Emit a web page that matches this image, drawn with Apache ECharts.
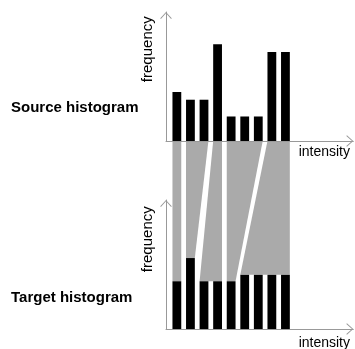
<!DOCTYPE html>
<html>
<head>
<meta charset="utf-8">
<script src="https://cdn.jsdelivr.net/npm/echarts@6/dist/echarts.min.js"></script>
<style>
  html, body { margin: 0; padding: 0; background: #fff; }
  #chart { width: 355px; height: 349px; }
</style>
</head>
<body>
<div id="chart"></div>
<script>
// ---- data ----
const intensity = [0, 1, 2, 3, 4, 5, 6, 7, 8];
const sourceFreq = [3.8, 3.2, 3.2, 7.5, 1.9, 1.9, 1.9, 6.9, 6.9];
const targetFreq = [3.7, 5.5, 3.7, 3.7, 3.7, 4.2, 4.2, 4.2, 4.2];
// mapping of source bins (from..to) onto target bins (from..to)
const srcFrom = [0, 1, 3, 4, 7];
const srcTo   = [0, 2, 3, 6, 8];
const tgtFrom = [0, 1, 2, 4, 5];
const tgtTo   = [0, 1, 3, 4, 8];
const labels = {
  source: 'Source histogram',
  target: 'Target histogram',
  yName: 'frequency',
  xName: 'intensity'
};

// ---- style ----
const AXIS_COLOR = '#999999';
const GRAY = '#aaaaaa';
const BAR_W = 8.8;
const FONT = '"Liberation Sans", Arial, Helvetica, sans-serif';
const ARROW = 'path://M6,0 L12,6.6 L11.3,7.3 L6,1.4 L0.7,7.3 L0,6.6 Z';

const chart = echarts.init(document.getElementById('chart'), null, { renderer: 'canvas' });

function axisLine() {
  return {
    show: true,
    onZero: false,
    symbol: ['none', ARROW],
    symbolSize: [11.5, 7],
    symbolOffset: [0, -3.5],
    lineStyle: { color: AXIS_COLOR, width: 1 }
  };
}
function xAx(gridIndex) {
  return {
    type: 'value', gridIndex, min: -0.8, max: 13,
    axisLine: axisLine(), axisTick: { show: false }, axisLabel: { show: false },
    splitLine: { show: false }, z: 5
  };
}
function yAx(gridIndex) {
  return {
    type: 'value', gridIndex, min: 0, max: 10,
    axisLine: axisLine(), axisTick: { show: false }, axisLabel: { show: false },
    splitLine: { show: false }, z: 5
  };
}

function renderLink(params, api) {
  const sF = api.value(0), sT = api.value(1), tF = api.value(2), tT = api.value(3);
  const half = BAR_W / 2;
  let tl, tr;
  try {
    tl = chart.convertToPixel({ gridIndex: 0 }, [intensity[sF], 0]);
    tr = chart.convertToPixel({ gridIndex: 0 }, [intensity[sT], 0]);
  } catch (e) { return null; }
  if (!tl || !tr) return null;
  const bl = api.coord([intensity[tF], targetFreq[tF]]);
  const br = api.coord([intensity[tT], targetFreq[tT]]);
  return {
    type: 'polygon',
    shape: { points: [[tl[0] - half, tl[1]], [tr[0] + half, tr[1]], [br[0] + half, br[1]], [bl[0] - half, bl[1]]] },
    style: { fill: GRAY }
  };
}

const linkData = srcFrom.map((v, i) => [srcFrom[i], srcTo[i], tgtFrom[i], tgtTo[i]]);

const option = {
  animation: false,
  backgroundColor: '#ffffff',
  grid: [
    { left: 166, top: 12, width: 187.3, height: 129 },
    { left: 166, top: 200, width: 187.3, height: 129 }
  ],
  xAxis: [xAx(0), xAx(1)],
  yAxis: [yAx(0), yAx(1)],
  series: [
    {
      type: 'custom', xAxisIndex: 1, yAxisIndex: 1, clip: false, z: 1,
      renderItem: renderLink,
      dimensions: ['sFrom', 'sTo', 'tFrom', 'tTo'],
      encode: { x: 0, y: 2 },
      data: linkData
    },
    {
      type: 'bar', xAxisIndex: 0, yAxisIndex: 0, barWidth: BAR_W, z: 2,
      itemStyle: { color: '#000000' },
      data: intensity.map((x, i) => [x, sourceFreq[i]])
    },
    {
      type: 'bar', xAxisIndex: 1, yAxisIndex: 1, barWidth: BAR_W, z: 2,
      itemStyle: { color: '#000000' },
      data: intensity.map((x, i) => [x, targetFreq[i]])
    }
  ],
  graphic: [
    { type: 'text', x: 11, y: 108.2, style: { text: labels.source, font: 'bold 15px ' + FONT, fill: '#000', align: 'left', verticalAlign: 'middle' } },
    { type: 'text', x: 11, y: 298.2, style: { text: labels.target, font: 'bold 15px ' + FONT, fill: '#000', align: 'left', verticalAlign: 'middle' } },
    { type: 'text', x: 148, y: 49.2, rotation: Math.PI / 2, style: { text: labels.yName, font: '15px ' + FONT, fill: '#000', align: 'center', verticalAlign: 'middle' } },
    { type: 'text', x: 148, y: 239.2, rotation: Math.PI / 2, style: { text: labels.yName, font: '15px ' + FONT, fill: '#000', align: 'center', verticalAlign: 'middle' } },
    { type: 'text', x: 350, y: 151.7, style: { text: labels.xName, font: '14px ' + FONT, fill: '#000', align: 'right', verticalAlign: 'middle' } },
    { type: 'text', x: 350, y: 343.2, style: { text: labels.xName, font: '14px ' + FONT, fill: '#000', align: 'right', verticalAlign: 'middle' } }
  ]
};

chart.setOption(option);
// re-render once so the link polygons can read the settled coordinate systems
chart.setOption({ series: option.series });
</script>
</body>
</html>
